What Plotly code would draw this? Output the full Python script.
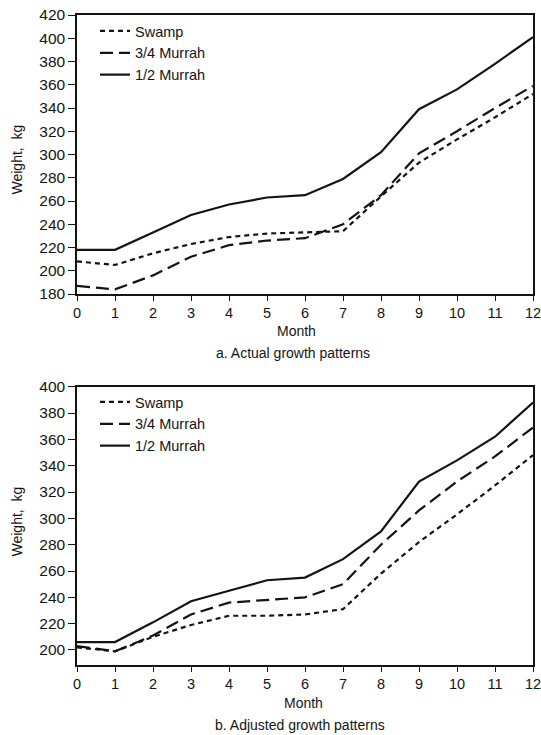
import plotly.graph_objects as go

months = list(range(13))

# a. Actual growth patterns
swamp_a = [208, 205, 215, 223, 229, 232, 233, 234, 264, 293, 313, 332, 352]
murrah34_a = [187, 184, 196, 212, 222, 226, 228, 240, 265, 301, 320, 340, 359]
murrah12_a = [218, 218, 233, 248, 257, 263, 265, 279, 302, 339, 356, 378, 401]

# b. Adjusted growth patterns
swamp_b = [202, 199, 210, 219, 226, 226, 227, 231, 258, 282, 303, 325, 348]
murrah34_b = [203, 199, 211, 227, 236, 238, 240, 250, 280, 306, 328, 347, 369]
murrah12_b = [206, 206, 221, 237, 245, 253, 255, 269, 290, 328, 344, 362, 388]

series_names = ["Swamp", "3/4 Murrah", "1/2 Murrah"]
dashes = ["5px,4px", "13px,6px", "solid"]

FONT = "Liberation Sans, Arial, Helvetica, sans-serif"
INK = "#141414"

W, H = 541, 735
PLOT_RIGHT = 533
ML, MT = 77, 15
MR = W - PLOT_RIGHT
MB = H - 665
PH = H - MT - MB
PW = W - ML - MR


def py(p):
    """page pixel y -> paper coordinate"""
    return (H - MB - p) / PH


def px(p):
    """page pixel x -> paper coordinate"""
    return (p - ML) / PW


fig = go.Figure()

for name, dash, ys in zip(series_names, dashes, [swamp_a, murrah34_a, murrah12_a]):
    fig.add_trace(go.Scatter(x=months, y=ys, mode="lines", name=name,
                             line=dict(color=INK, width=2.2, dash=dash),
                             xaxis="x", yaxis="y", legend="legend"))
for name, dash, ys in zip(series_names, dashes, [swamp_b, murrah34_b, murrah12_b]):
    fig.add_trace(go.Scatter(x=months, y=ys, mode="lines", name=name,
                             line=dict(color=INK, width=2.2, dash=dash),
                             xaxis="x2", yaxis="y2", legend="legend2"))

axis_common = dict(showgrid=False, zeroline=False, showline=True, linecolor=INK,
                   linewidth=1.5, mirror=True, ticks="outside", tickcolor=INK,
                   tickwidth=1.2, automargin=False, ticklabeloverflow="allow")
xfont = dict(family=FONT, size=14.5, color=INK)
yfont = dict(family=FONT, size=15.5, color=INK)

top_dom = [py(294), 1.0]
bot_dom = [0.0, py(386.7)]

leg_font = dict(family=FONT, size=14.5, color=INK)

fig.update_layout(
    width=W, height=H,
    margin=dict(l=ML, r=MR, t=MT, b=MB, autoexpand=False),
    paper_bgcolor="white", plot_bgcolor="white",
    font=dict(family=FONT, color=INK),
    xaxis=dict(domain=[0, 1], range=[0, 12], dtick=1, ticklen=5, anchor="y",
               tickfont=xfont, **axis_common),
    yaxis=dict(domain=top_dom, range=[180, 420], dtick=20, ticklen=7, anchor="x",
               tickfont=yfont, **axis_common),
    xaxis2=dict(domain=[0, 1], range=[0, 12], dtick=1, ticklen=5, anchor="y2",
                tickfont=xfont, **axis_common),
    yaxis2=dict(domain=bot_dom, range=[188.6, 400], tickvals=list(range(200, 401, 20)),
                ticklen=7, anchor="x2", tickfont=yfont, **axis_common),
    legend=dict(x=px(95), y=py(15), xanchor="left", yanchor="top",
                bgcolor="rgba(0,0,0,0)", font=leg_font, itemwidth=30, tracegroupgap=0),
    legend2=dict(x=px(95), y=py(386), xanchor="left", yanchor="top",
                 bgcolor="rgba(0,0,0,0)", font=leg_font, itemwidth=30, tracegroupgap=0),
    showlegend=True,
)

ann_font = dict(family=FONT, size=14, color=INK)
annotations = [
    dict(text="Month", x=px(296), y=py(331), xref="paper", yref="paper",
         showarrow=False, xanchor="center", yanchor="middle", font=ann_font),
    dict(text="a. Actual growth patterns", x=px(293), y=py(353), xref="paper", yref="paper",
         showarrow=False, xanchor="center", yanchor="middle", font=ann_font),
    dict(text="Month", x=px(303), y=py(703), xref="paper", yref="paper",
         showarrow=False, xanchor="center", yanchor="middle", font=ann_font),
    dict(text="b. Adjusted growth patterns", x=px(300), y=py(725), xref="paper", yref="paper",
         showarrow=False, xanchor="center", yanchor="middle", font=ann_font),
    dict(text="Weight,  kg", x=px(16.5), y=py(160), xref="paper", yref="paper",
         showarrow=False, xanchor="center", yanchor="middle", textangle=-90, font=ann_font),
    dict(text="Weight,  kg", x=px(16.5), y=py(522), xref="paper", yref="paper",
         showarrow=False, xanchor="center", yanchor="middle", textangle=-90, font=ann_font),
]
fig.update_layout(annotations=annotations)

fig.write_html(
    "out.html",
    config={"displayModeBar": False},
    post_script="document.body.style.margin='0';document.body.style.overflow='hidden';",
)
